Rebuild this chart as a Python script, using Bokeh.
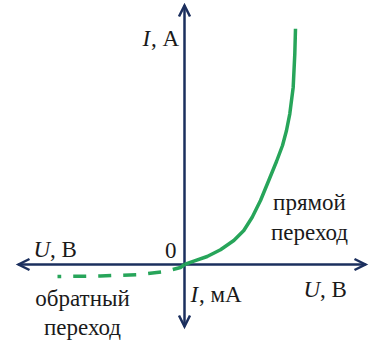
from bokeh.plotting import figure
from bokeh.models import Range1d
from bokeh.core.properties import value
from bokeh.embed import file_html
from bokeh.resources import INLINE

# Forward branch (U in V, I in A) — schematic units
u_forward = [0.0, 0.093, 0.227, 0.36, 0.493, 0.593, 0.677, 0.76, 0.83, 0.92,
             0.98, 1.02, 1.053, 1.087, 1.103, 1.11]
i_forward = [0.0, 0.033, 0.08, 0.147, 0.24, 0.34, 0.473, 0.64, 0.81, 1.03,
             1.19, 1.34, 1.507, 1.773, 2.107, 2.357]

# Reverse branch (drawn from origin outwards, dashed)
u_reverse = [0.0, -0.04, -0.19, -0.44, -0.84, -1.27]
i_reverse = [0.0, -0.03, -0.07, -0.10, -0.115, -0.12]

# Axis extents and arrow-head size (data units)
x_axis_min, x_axis_max = -1.66, 1.81
y_axis_min, y_axis_max = -0.62, 2.59
head = 0.11

AXIS = "#1b2f5e"
GREEN = "#27a55a"
FONT_NAME = "Liberation Serif"
FS = "23px"

p = figure(width=371, height=346, output_backend="svg", toolbar_location=None,
           x_range=Range1d(-1.84, 1.87), y_range=Range1d(-0.82, 2.64),
           min_border=0, outline_line_color=None)
p.axis.visible = False
p.grid.visible = False
p.background_fill_color = "white"
p.border_fill_color = "white"

# Axes
p.segment(x0=[x_axis_min, 0], y0=[0, y_axis_min], x1=[x_axis_max, 0], y1=[0, y_axis_max],
          line_color=AXIS, line_width=2.5)
h = head / 2
heads_x = [[x_axis_max - head, x_axis_max, x_axis_max - head],
           [x_axis_min + head, x_axis_min, x_axis_min + head],
           [-h, 0, h], [-h, 0, h]]
heads_y = [[h, 0, -h], [h, 0, -h],
           [y_axis_max - head, y_axis_max, y_axis_max - head],
           [y_axis_min + head, y_axis_min, y_axis_min + head]]
p.multi_line(heads_x, heads_y, line_color=AXIS, line_width=2.5, line_join="miter")

# Curves
p.line(u_forward, i_forward, line_color=GREEN, line_width=3.5, line_join="round")
p.line(u_reverse, i_reverse, line_color=GREEN, line_width=3.5, line_dash="13 12")

def txt(x, y, s, italic=False, align="left"):
    kw = dict(text_font_style="italic") if italic else {}
    p.text(x=[x], y=[y], text=[s], text_font=value(FONT_NAME), text_font_size=FS,
           text_color="#1a1a1a", text_align=align, **kw)

# I, A (top)
txt(-0.42, 2.14, "I", italic=True)
txt(-0.335, 2.14, ", А")
# 0
txt(-0.08, 0.07, "0", align="right")
# U, В (left)
txt(-1.51, 0.03, "U", italic=True)
txt(-1.345, 0.03, ", В")
# прямой переход
txt(1.25, 0.50, "прямой", align="center")
txt(1.25, 0.20, "переход", align="center")
# U, В (right)
txt(1.19, -0.37, "U", italic=True)
txt(1.355, -0.37, ", В")
# I, мА
txt(0.06, -0.42, "I", italic=True)
txt(0.145, -0.42, ", мА")
# обратный переход
txt(-1.02, -0.46, "обратный", align="center")
txt(-1.02, -0.75, "переход", align="center")

open("out.html", "w").write(file_html(p, INLINE))
